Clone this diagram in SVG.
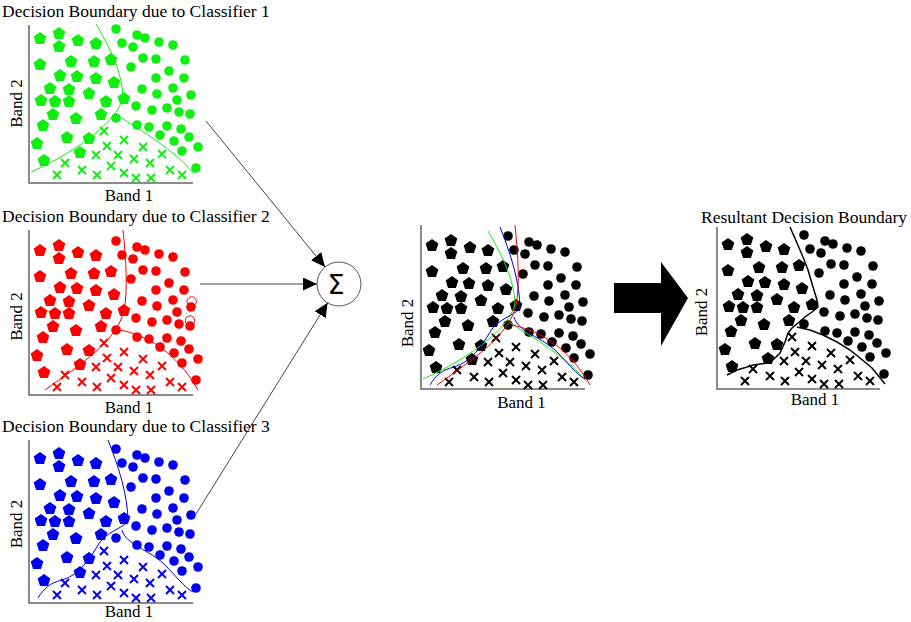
<svg xmlns="http://www.w3.org/2000/svg" xmlns:xlink="http://www.w3.org/1999/xlink" width="911" height="622" viewBox="0 0 911 622">
<style>
.t{font-family:"Liberation Serif","Times New Roman",serif;fill:#000}
.title{font-size:17.5px}
.b1{font-size:17px;text-anchor:middle}
.b2{font-size:17px;text-anchor:middle}
.ax{stroke:#666;stroke-width:1.5;fill:none}
.conn{stroke:#444;stroke-width:1;fill:none;marker-end:url(#ah)}
</style>
<defs>
<marker id="ah" markerUnits="userSpaceOnUse" markerWidth="14" markerHeight="13" refX="14" refY="6.5" orient="auto">
<path d="M0,0 L14,6.5 L0,13 Z" fill="#000"/>
</marker>
<path id="pg" d="M0,-6.06 L6.37,-1.43 L3.94,6.06 L-3.94,6.06 L-6.37,-1.43 Z"/>
<circle id="ci" r="4.8"/>
<path id="cr" d="M-4,-4L4,4M4,-4L-4,4"/>
<g id="pents">
<use href="#pg" x="40" y="38"/><use href="#pg" x="59" y="33"/><use href="#pg" x="59" y="46"/><use href="#pg" x="78" y="40"/><use href="#pg" x="96" y="43"/>
<use href="#pg" x="40" y="64"/><use href="#pg" x="71" y="61"/><use href="#pg" x="94" y="61"/><use href="#pg" x="111" y="59"/><use href="#pg" x="60" y="75"/>
<use href="#pg" x="77" y="76"/><use href="#pg" x="96" y="78"/><use href="#pg" x="114" y="82"/><use href="#pg" x="50" y="88"/><use href="#pg" x="69" y="89"/>
<use href="#pg" x="89" y="93"/><use href="#pg" x="41" y="100"/><use href="#pg" x="55" y="101"/><use href="#pg" x="69" y="101"/><use href="#pg" x="106" y="101"/>
<use href="#pg" x="124" y="98"/><use href="#pg" x="53" y="114"/><use href="#pg" x="76" y="118"/><use href="#pg" x="101" y="114"/><use href="#pg" x="43" y="125"/>
<use href="#pg" x="67" y="137"/><use href="#pg" x="89" y="138"/><use href="#pg" x="37" y="143"/><use href="#pg" x="80" y="152"/><use href="#pg" x="44" y="160"/>
</g>
<g id="circs">
<use href="#ci" x="116" y="29"/><use href="#ci" x="137" y="35"/><use href="#ci" x="145" y="38"/><use href="#ci" x="122" y="43"/><use href="#ci" x="133" y="47"/>
<use href="#ci" x="159" y="42"/><use href="#ci" x="173" y="45"/><use href="#ci" x="143" y="58"/><use href="#ci" x="156" y="59"/><use href="#ci" x="185" y="60"/>
<use href="#ci" x="131" y="67"/><use href="#ci" x="169" y="71"/><use href="#ci" x="156" y="78"/><use href="#ci" x="184" y="78"/><use href="#ci" x="142" y="89"/>
<use href="#ci" x="173" y="88"/><use href="#ci" x="157" y="94"/><use href="#ci" x="191" y="95"/><use href="#ci" x="177" y="100"/><use href="#ci" x="136" y="106"/>
<use href="#ci" x="152" y="110"/><use href="#ci" x="167" y="108"/><use href="#ci" x="179" y="112"/><use href="#ci" x="190" y="114"/><use href="#ci" x="116" y="118"/>
<use href="#ci" x="137" y="125"/><use href="#ci" x="149" y="127"/><use href="#ci" x="167" y="126"/><use href="#ci" x="181" y="129"/><use href="#ci" x="160" y="135"/>
<use href="#ci" x="189" y="137"/><use href="#ci" x="174" y="141"/><use href="#ci" x="198" y="147"/><use href="#ci" x="182" y="151"/><use href="#ci" x="196" y="168"/>
</g>
<g id="crosses">
<use href="#cr" x="104" y="131"/><use href="#cr" x="124" y="140"/><use href="#cr" x="107" y="146"/><use href="#cr" x="143" y="147"/><use href="#cr" x="96" y="155"/>
<use href="#cr" x="118" y="155"/><use href="#cr" x="134" y="159"/><use href="#cr" x="162" y="154"/><use href="#cr" x="65" y="163"/><use href="#cr" x="111" y="166"/>
<use href="#cr" x="150" y="163"/><use href="#cr" x="82" y="170"/><use href="#cr" x="57" y="175"/><use href="#cr" x="97" y="175"/><use href="#cr" x="124" y="173"/>
<use href="#cr" x="136" y="178"/><use href="#cr" x="151" y="178"/><use href="#cr" x="170" y="170"/><use href="#cr" x="182" y="175"/>
</g>
<g id="bd1">
<path d="M96,24 C108,45 122,70 123,97 C118,120 80,150 31,172"/>
<path d="M117,115 C140,130 175,150 193,173"/>
</g>
<g id="bd2">
<path d="M123,230 C126,260 128,290 124,310 C118,340 80,365 45,390"/>
<path d="M120,330 C145,335 175,350 198,390"/>
</g>
<g id="bd3">
<path d="M108,440 C118,465 128,495 128,522 C118,530 108,532 100,542 C90,558 80,575 62,580 C50,583 44,588 38,598"/>
<path d="M122,530 C126,545 150,550 165,565 C175,575 185,588 193,592"/>
</g>
</defs>
<rect width="911" height="622" fill="#fff"/>

<g id="classifier1">
<text class="t title" x="2" y="17">Decision Boundary due to Classifier 1</text>
<path class="ax" d="M29,25 V183 H193"/>
<use href="#pents" fill="#11ee11"/>
<use href="#circs" fill="#11ee11"/>
<use href="#crosses" stroke="#11ee11" fill="none" stroke-width="2"/>
<use href="#bd1" stroke="#11ee11" fill="none" stroke-width="1"/>
<text class="t b1" x="129" y="201">Band 1</text>
<text class="t b2" transform="translate(21.5,103.5) rotate(-90)">Band 2</text>
</g>

<g id="classifier2">
<text class="t title" x="2" y="222">Decision Boundary due to Classifier 2</text>
<path class="ax" d="M29,230 V395 H193"/>
<g transform="translate(0,212)">
<use href="#pents" fill="#ff0000"/>
<use href="#circs" fill="#ff0000"/>
<use href="#crosses" stroke="#ff0000" fill="none" stroke-width="2"/>
</g>
<circle cx="191.7" cy="301.5" r="4.7" fill="none" stroke="#ff0000" stroke-width="1"/>
<circle cx="190" cy="320.5" r="4.7" fill="none" stroke="#ff0000" stroke-width="1"/>
<use href="#bd2" stroke="#ff0000" fill="none" stroke-width="1"/>
<text class="t b1" x="129" y="413">Band 1</text>
<text class="t b2" transform="translate(21.5,316.5) rotate(-90)">Band 2</text>
</g>

<g id="classifier3">
<text class="t title" x="2" y="432">Decision Boundary due to Classifier 3</text>
<path class="ax" d="M29,440 V603 H193"/>
<g transform="translate(0,420)">
<use href="#pents" fill="#0000f0"/>
<use href="#circs" fill="#0000f0"/>
<use href="#crosses" stroke="#0000f0" fill="none" stroke-width="2"/>
</g>
<use href="#bd3" stroke="#0000f0" fill="none" stroke-width="1"/>
<text class="t b1" x="129" y="617">Band 1</text>
<text class="t b2" transform="translate(21.5,524) rotate(-90)">Band 2</text>
</g>

<g id="sum">
<circle cx="339" cy="284" r="22" fill="#fff" stroke="#555" stroke-width="1"/>
<text x="336" y="294" font-family="DejaVu Sans, sans-serif" font-size="27" text-anchor="middle" fill="#000">Σ</text>
</g>

<g id="fused">
<path class="ax" d="M421,225 V389 H585"/>
<g transform="translate(392,207)">
<use href="#pents" fill="#000"/>
<use href="#circs" fill="#000"/>
<use href="#crosses" stroke="#000" fill="none" stroke-width="2"/>
<use href="#bd1" stroke="#11ee11" fill="none" stroke-width="1"/>
</g>
<use href="#bd3" transform="translate(392,-213)" stroke="#0000f0" fill="none" stroke-width="1"/>
<use href="#bd2" transform="translate(392,-5)" stroke="#ff0000" fill="none" stroke-width="1"/>
<text class="t b2" x="521.5" y="408">Band 1</text>
<text class="t b2" transform="translate(413,323) rotate(-90)">Band 2</text>
</g>

<g id="big-arrow">
<polygon points="614,283 661,283 661,262 688,298 661,346 661,313 614,313" fill="#000"/>
</g>

<g id="result">
<text class="t title" x="701" y="223">Resultant Decision Boundary</text>
<path class="ax" d="M717,227 V389 H880"/>
<g transform="translate(688,206)">
<use href="#pents" fill="#000"/>
<use href="#circs" fill="#000"/>
<use href="#crosses" stroke="#000" fill="none" stroke-width="2"/>
</g>
<polyline fill="none" stroke="#000" stroke-width="1.5" points="790,227 797,243 803,257 808,270 813,287 817,300 818,307 812,312 805,317 798,323 792,328 788,333 785,342 780,353 773,360 767,363 753,365 747,367 737,370 727,375"/>
<polyline fill="none" stroke="#000" stroke-width="1.5" points="797,327 810,330 823,335 837,342 850,350 860,358 872,368 885,384"/>
<text class="t b1" x="815" y="405">Band 1</text>
<text class="t b2" transform="translate(707,312) rotate(-90)">Band 2</text>
</g>

<g id="connectors">
<line class="conn" x1="206" y1="121" x2="325" y2="267"/>
<line class="conn" x1="200" y1="284" x2="317" y2="284"/>
<line class="conn" x1="196" y1="514" x2="327.6" y2="302.8"/>
</g>
</svg>
